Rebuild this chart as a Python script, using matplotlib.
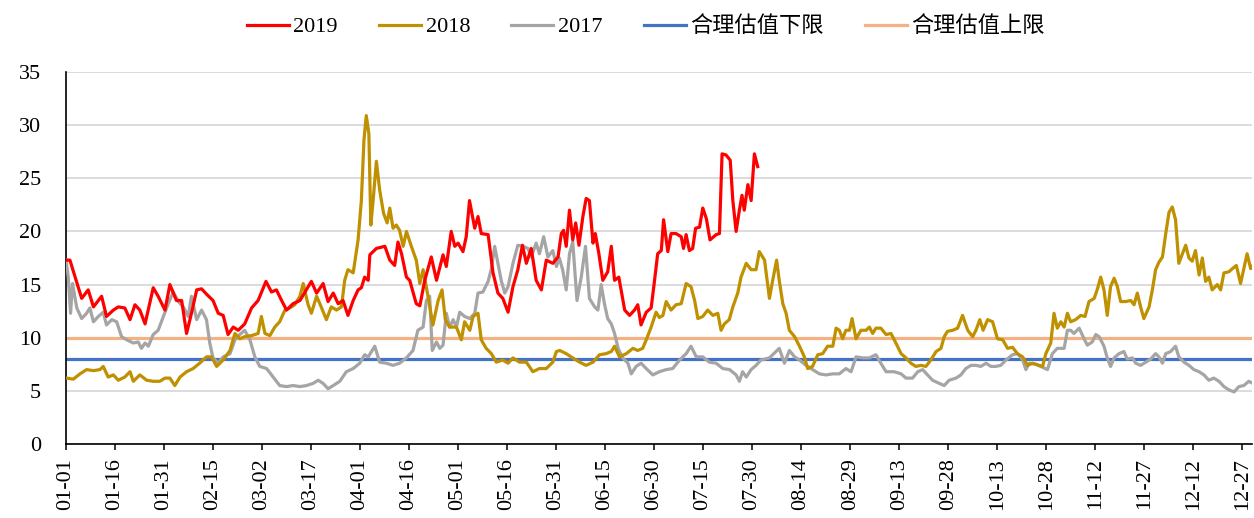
import matplotlib
matplotlib.use("Agg")
import matplotlib.pyplot as plt

plt.rcParams["font.family"] = ["Liberation Serif", "Noto Sans CJK SC"]
plt.rcParams["font.size"] = 16

# day of year (0 = 01-01) and value
days_2019 = [0.2, 1.2, 4.8, 6.8, 8.4, 10.9, 12.4, 14.5, 16, 18, 19.6, 21.1, 22.6, 24.2, 26.7, 28.2,
             30.3, 31.8, 33.8, 35.4, 36.9, 38.4, 40, 41.5, 43, 45, 46.6, 48.1, 49.6, 51.2, 52.7, 54.7,
             56.8, 58.8, 61.2, 62.9, 64.4, 66, 67.5, 69.5, 71.6, 75.1, 76.7, 78.7, 80.2, 81.8, 83.3,
             84.8, 86.3, 87.9, 89.4, 90.4, 91.4, 92.5, 93, 95, 97.6, 99.1, 100.6, 101.6, 102.7, 104.2,
             105.2, 107.2, 108.3, 109.8, 111.8, 113.4, 115.4, 116.4, 117.9, 119, 120, 121.5, 122.5,
             123.5, 125.1, 126.1, 127.1, 129.2, 130.7, 132.2, 133.7, 135.3, 136.8, 138.3, 139.7, 140.9,
             142.4, 143.9, 145.5, 147, 149, 150.6, 151.6, 152.3, 153.1, 154.1, 155.1, 156, 157, 158.2,
             159.2, 160.2, 161.3, 162, 163.1, 164.3, 165.8, 166.9, 167.9, 169.2, 171, 172.5, 174, 175,
             176, 177.6, 179.1, 180.1, 181.1, 182.2, 182.9, 184.2, 185.2, 186.7, 188.3, 189, 189.8,
             190.8, 191.8, 192.7, 193.9, 194.9, 196, 197.1, 199, 200, 200.8, 202, 203.3, 204.1, 205.1,
             206.1, 206.9, 207.6, 208.7, 209.7, 210.7, 211.7]
pe_2019 = [17.3, 17.3, 13.7, 14.5, 12.9, 13.9, 12.0, 12.6, 12.9, 12.8, 11.7, 13.1, 12.6, 11.3, 14.7, 13.9,
           12.6, 15.0, 13.5, 13.5, 10.4, 12.3, 14.5, 14.6, 14.1, 13.5, 12.3, 12.1, 10.3, 11.0, 10.7, 11.3,
           12.8, 13.5, 15.3, 14.3, 14.5, 13.5, 12.6, 13.2, 13.5, 15.3, 14.2, 15.1, 13.4, 14.2, 13.2,
           13.5, 12.1, 13.5, 14.5, 14.7, 15.7, 15.4, 17.8, 18.4, 18.6, 17.3, 16.8, 19.0, 17.9, 15.7,
           15.4, 13.2, 13.0, 15.4, 17.6, 15.4, 17.8, 16.7, 20.0, 18.6, 18.9, 18.1, 19.5,
           22.9, 20.3, 21.4, 19.8, 19.7, 16.1, 14.2, 13.7, 12.4, 14.8, 16.4, 18.7, 17.0,
           18.4, 15.4, 14.5, 17.3, 17.0, 17.6, 19.8, 20.1, 18.6, 22.0, 19.2, 20.8, 18.7, 21.4,
           23.1, 22.9, 18.9, 19.8, 17.9, 15.4, 16.2, 18.6, 15.4, 15.7, 12.6, 12.1, 12.6, 13.1,
           11.2, 12.4, 12.8, 15.3, 17.9, 18.2, 21.1, 18.1, 19.8, 19.8, 19.5, 18.4, 19.7,
           18.2, 18.4, 20.3, 20.4, 22.2, 21.2, 19.2, 19.7, 19.8, 27.3, 27.2, 26.7, 22.9, 20.0,
           22.0, 23.4, 22.0, 24.4, 22.9, 27.3, 26.1]

days_2018 = [0.2, 2.2, 4.3, 6.3, 8.4, 10.4, 11.4, 12.9, 14.5, 16, 18, 19.6, 20.6, 22.6, 24.7, 26.7, 28.7,
             30.3, 31.8, 33.3, 34.9, 36.9, 38.9, 40.9, 43, 44.5, 46.1, 48.1, 50.2, 51.7, 53.2, 54.7,
             56.8, 58.8, 59.8, 60.9, 62.4, 63.9, 65.4, 67, 68.5, 70, 71.6, 72.6, 74.1, 75.1, 76.7,
             77.7, 79.7, 81.2, 82.8, 84.3, 85.3, 86.3, 87.9, 89.4, 90.4, 91.2, 91.9, 92.7, 93.3, 94,
             95, 96, 97.2, 98.3, 99.1, 100.1, 101.1, 102.1, 103.2, 104.2, 105.7, 107.2, 108.3, 109.3,
             110.8, 112.3, 113.9, 115.1, 116.1, 117.4, 119.5, 121, 122, 123.6, 124.6, 126.1, 127.1,
             128.6, 130.2, 131.7, 133.7, 135.3, 136.8, 138.8, 140.9, 142.9, 144.9, 147, 149, 150.1,
             151.1, 153.1, 155.1, 157.2, 159.2, 161.3, 163.3, 165.3, 166.9, 167.9, 169.4, 171.5,
             173.5, 175, 176.5, 177.6, 179.1, 180.6, 181.6, 182.7, 183.7, 185.2, 186.7, 188.3, 189.8,
             191.3, 192.4, 193.4, 194.9, 196.4, 198, 199.5, 200.5, 201.5, 203, 204.1, 205.6, 206.6,
             208.2, 209.7, 211.2, 212.2, 213.8, 215.3, 216.3, 217.5, 218.3, 219.4, 220.4, 221.4, 223,
             224.5, 226, 227, 228.5, 230.1, 231.6, 233.1, 234.7, 235.7, 236.7, 237.7, 238.7, 239.8,
             240.6, 241.8, 243.3, 244.9, 245.9, 246.9, 247.9, 249.4, 251, 252.5, 254, 255.6, 257.1,
             258.6, 260.1, 261.7, 263.2, 264.7, 266.3, 267.8, 268.8, 269.8, 271.4, 272.9, 274.4, 276,
             277.5, 278.5, 279.7, 280.7, 282.1, 283.6, 285.1, 286.7, 288.2, 289.7, 291.2, 292.8,
             294.3, 295.8, 298.9, 299.9, 301.4, 302.4, 303.4, 304.5, 305.5, 306.5, 307.5, 309, 310.6,
             311.9, 313.1, 314.7, 315.7, 316.7, 317.7, 318.7, 319.7, 320.8, 321.8, 322.8, 324.3,
             325.9, 326.9, 327.9, 328.9, 329.9, 331.5, 332.5, 333.5, 334.5, 335.6, 336.6, 337.6,
             338.6, 339.6, 340.6, 341.7, 342.7, 343.7, 344.7, 345.7, 346.8, 347.8, 348.8, 349.8,
             350.8, 352.4, 353.4, 354.4, 355.9, 357, 358.2, 359.5, 361.5, 362.6, 363.3]
pe_2018 = [6.2, 6.1, 6.6, 7.0, 6.9, 7.0, 7.3, 6.3, 6.5, 6.0, 6.3, 6.8, 5.9, 6.5, 6.0, 5.9, 5.9,
           6.2, 6.2, 5.5, 6.3, 6.8, 7.1, 7.6, 8.2, 8.2, 7.3, 7.9, 8.8, 10.4, 9.9, 10.1,
           10.2, 10.4, 12.0, 10.4, 10.2, 11.0, 11.5, 12.6, 12.8, 13.1, 13.9, 15.1, 13.1, 12.3, 13.9,
           13.2, 11.7, 12.9, 12.6, 12.9, 15.4, 16.4, 16.1, 19.2, 22.9, 28.6, 30.9, 29.2, 20.6, 22.9,
           26.6, 23.9, 21.7, 20.8, 22.2, 20.3, 20.6, 20.1, 18.6, 20.0, 18.6, 17.3, 15.1, 16.4,
           13.9, 11.2, 13.5, 14.5, 11.7, 11.0, 11.0, 9.8, 11.5, 10.7, 12.0, 12.3, 9.8,
           9.0, 8.5, 7.7, 7.9, 7.6, 8.1, 7.7, 7.7, 6.8, 7.1, 7.1, 7.7, 8.7,
           8.8, 8.5, 8.1, 7.7, 7.4, 7.7, 8.4, 8.5, 8.7, 9.2, 8.2, 8.5,
           9.0, 8.8, 9.0, 9.8, 11.0, 12.4, 11.9, 12.1, 13.4, 12.6, 13.1, 13.2, 15.1,
           14.8, 13.5, 11.8, 12.0, 12.6, 12.1, 12.3, 10.7, 11.3, 11.7, 12.9, 14.2, 15.7,
           17.0, 16.4, 16.4, 18.1, 17.3, 13.7, 15.4, 17.3, 15.4, 13.2, 12.3, 10.7, 10.1,
           9.2, 8.2, 7.1, 7.3, 8.4, 8.5, 9.2, 9.2, 10.9, 10.7, 9.9, 10.7, 10.7,
           11.8, 9.9, 10.7, 10.7, 11.0, 10.4, 10.9, 10.9, 10.3, 10.4, 9.5, 8.5, 8.1,
           7.6, 7.3, 7.4, 7.3, 7.9, 8.7, 9.0, 10.1, 10.6, 10.7, 10.9, 12.1, 10.7,
           10.1, 10.7, 11.7, 10.7, 11.7, 11.5, 9.9, 9.8, 9.0, 9.1, 8.5, 8.2,
           7.4, 7.6, 7.3, 8.5, 9.5, 12.3, 10.9, 11.5, 11.0, 12.3, 11.5, 11.7, 12.1,
           12.0, 13.4, 13.7, 14.6, 15.7, 14.5, 12.1, 14.8, 15.6, 14.8, 13.4, 13.4,
           13.5, 13.1, 14.2, 12.9, 11.8, 12.9, 14.5, 16.4, 17.1, 17.6, 19.8, 21.8,
           22.3, 21.1, 17.0, 17.9, 18.7, 17.5, 17.2, 18.2, 15.9, 17.5, 15.3, 15.7,
           14.5, 15.0, 14.5, 16.1, 16.2, 16.5, 16.8, 15.1, 17.9, 16.5, 16.8]

days_2017 = [0, 0.7, 1.4, 2, 3.3, 4.8, 6.3, 7.3, 8.4, 9.9, 11.4, 12.4, 14, 15.5, 17, 18.6, 20.6, 22.1,
             23.1, 24.2, 25.2, 26.7, 28.2, 29.8, 31.3, 32.8, 34.4, 35.9, 37.4, 38.4, 40, 41.5, 43, 44,
             45, 46.6, 48.1, 50.2, 51.7, 53.2, 54.7, 56.3, 57.8, 59.3, 61.4, 63.4, 65.4, 67.5, 69.5,
             71.6, 73.6, 75.6, 77.2, 78.7, 80.2, 81.8, 83.8, 85.8, 87.9, 89.9, 91.4, 92.5, 94.5, 96,
             98.1, 100.1, 102.1, 104.2, 106.2, 107.7, 109.3, 110.3, 111.3, 112.1, 113.4, 114.4, 115.4,
             116.4, 117.4, 118.5, 119.5, 120.5, 122, 123.6, 125.1, 126.1, 127.6, 129.2, 130.2, 131.2,
             132.2, 133.2, 134.3, 135.3, 136.8, 138.3, 139.9, 141.4, 142.4, 143.9, 144.9, 146.2,
             147.5, 149, 150.1, 151, 152, 153.1, 154.1, 155.1, 156.4, 157.7, 159, 160.2, 161.8, 162.8,
             163.8, 164.8, 165.8, 166.9, 167.9, 169, 170.4, 172, 173, 174.5, 176, 177.6, 179.6, 181.6,
             183.7, 185.7, 187.8, 189.8, 191.3, 192.9, 194.9, 196.9, 199, 201, 203.1, 205.1, 206.1,
             207.1, 208.2, 209.7, 211.2, 212.7, 215.3, 217.3, 218.3, 219.9, 221.4, 223, 224.5, 226.5,
             228.5, 230.6, 232.6, 234.7, 236.7, 238.7, 240.3, 241.8, 243.8, 245.9, 247.9, 249.4, 251,
             253.5, 255.6, 257.1, 259.1, 260.7, 262.2, 263.7, 265.2, 267.3, 268.8, 270.3, 272.4,
             273.9, 275.4, 277, 278.5, 280, 281.6, 283.1, 284.6, 286.1, 287.7, 289.7, 291.2, 292.7,
             293.8, 294.8, 296.8, 298.3, 300.4, 301.9, 303.4, 305.5, 306.5, 307.5, 308.5, 310.1,
             311.6, 312.6, 314.1, 315.2, 316.2, 317.7, 318.7, 319.7, 320.8, 322.3, 323.8, 324.8,
             326.4, 327.4, 328.9, 330.5, 332, 333.5, 334.5, 335.6, 336.6, 338.1, 339.6, 340.6, 342.2,
             343.7, 345.2, 346.8, 348.3, 349.8, 351.3, 352.9, 354.4, 355.9, 357.5, 359, 360.5, 362,
             363.3]
pe_2017 = [17.3, 15.7, 12.3, 15.1, 12.8, 11.8, 12.3, 12.8, 11.5, 12.0, 12.4, 11.2, 11.7, 11.5, 10.1, 9.8,
           9.5, 9.6, 9.0, 9.5, 9.2, 10.3, 10.7, 12.0, 13.2, 14.3, 13.4, 12.9, 12.0, 13.9, 11.7, 12.6,
           11.7, 9.5, 8.1, 7.6, 8.2, 8.5, 9.8, 10.3, 10.7, 9.8, 8.2, 7.3, 7.1, 6.3, 5.5, 5.4, 5.5,
           5.4, 5.5, 5.7, 6.0, 5.7, 5.2, 5.5, 5.9, 6.8, 7.1, 7.6, 8.4, 8.2, 9.2, 7.7,
           7.6, 7.4, 7.6, 8.1, 8.8, 10.7, 11.0, 13.5, 13.9, 8.8, 9.6, 9.0, 9.3,
           12.3, 11.0, 11.7, 11.0, 12.4, 12.0, 11.8, 12.3, 14.2, 14.3, 15.3, 16.5, 18.6,
           17.0, 15.4, 14.2, 14.8, 17.0, 18.7, 18.6, 18.4, 17.6, 18.9, 17.9, 19.5,
           17.6, 18.2, 16.7, 17.5, 16.4, 14.5, 17.9, 19.0, 13.5, 15.7, 18.6, 13.7, 12.9, 12.6,
           15.0, 13.2, 11.8, 11.3, 10.4, 9.0, 8.1, 7.6, 6.6, 7.3, 7.6, 7.1, 6.5, 6.8,
           7.0, 7.1, 7.9, 8.5, 9.2, 8.2, 8.2, 7.7, 7.6, 7.1, 7.0, 6.5, 5.9,
           6.8, 6.3, 7.0, 7.4, 7.9, 8.1, 8.7, 9.0, 7.6, 8.8, 8.2, 7.9, 7.4,
           7.0, 6.6, 6.5, 6.6, 6.6, 7.1, 6.8, 8.2, 8.1, 8.1, 8.4, 7.6, 6.8,
           6.8, 6.6, 6.2, 6.2, 6.8, 7.0, 6.5, 6.0, 5.7, 5.5, 6.0, 6.2,
           6.5, 7.1, 7.4, 7.4, 7.3, 7.6, 7.3, 7.3, 7.4, 7.9, 8.4, 8.5, 8.0,
           7.0, 7.6, 7.5, 7.3, 7.0, 8.5, 9.0, 9.0, 10.7, 10.7, 10.4, 10.9,
           9.9, 9.3, 9.6, 10.3, 10.1, 9.2, 8.1, 7.3, 8.1, 8.5, 8.7, 8.0,
           8.1, 7.6, 7.4, 7.7, 8.0, 8.5, 8.2, 7.6, 8.5, 8.7, 9.2, 8.2, 7.7,
           7.4, 7.0, 6.8, 6.5, 6.0, 6.2, 5.9, 5.4, 5.1, 4.9, 5.4, 5.5, 5.9,
           5.7]

lower_bound = 8
upper_bound = 10

tick_days = list(range(0, 361, 15))
tick_labels = ["01-01", "01-16", "01-31", "02-15", "03-02", "03-17", "04-01", "04-16", "05-01",
               "05-16", "05-31", "06-15", "06-30", "07-15", "07-30", "08-14", "08-29", "09-13",
               "09-28", "10-13", "10-28", "11-12", "11-27", "12-12", "12-27"]

fig = plt.figure(figsize=(12.54, 5.18), dpi=100)
ax = fig.add_axes([66 / 1254, 74 / 518, 1186 / 1254, 372 / 518])

ax.plot(days_2019, pe_2019, color="#FF0000", lw=2.3, label="2019", zorder=5)
ax.plot(days_2018, pe_2018, color="#BF9000", lw=2.3, label="2018", zorder=4)
ax.plot(days_2017, pe_2017, color="#A5A5A5", lw=2.3, label="2017", zorder=3)
ax.axhline(lower_bound, color="#4472C4", lw=2.3, label="合理估值下限", zorder=2)
ax.axhline(upper_bound, color="#F4B183", lw=2.3, label="合理估值上限", zorder=2)

ax.set_xlim(0, 363)
ax.set_ylim(0, 35)
ax.set_yticks(range(0, 36, 5))
ax.grid(axis="y", color="#D9D9D9", lw=1.3, zorder=0)
ax.set_axisbelow(True)

ax.set_xticks(tick_days)
ax.set_xticklabels(tick_labels, rotation=90)
ax.tick_params(axis="x", direction="out", length=4, width=1.1, pad=6, colors="#000000")
ax.tick_params(axis="y", length=0, pad=18)

for s in ["top", "right"]:
    ax.spines[s].set_visible(False)
for s in ["left", "bottom"]:
    ax.spines[s].set_color("#000000")
    ax.spines[s].set_linewidth(1.2)

fig.legend(loc="upper center", bbox_to_anchor=(0.515, 1.007), ncol=5, frameon=False,
           handlelength=1.9, handletextpad=0.2, columnspacing=1.85, fontsize=16)

fig.savefig("out.png", dpi=100)
